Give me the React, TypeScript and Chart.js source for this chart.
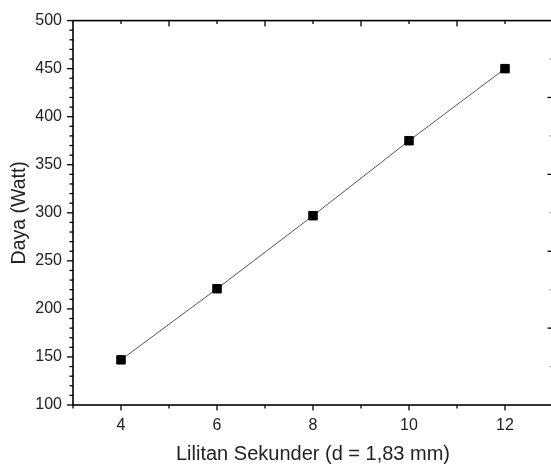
import React, { useEffect, useRef } from "react";
import { Chart, registerables } from "chart.js";

Chart.register(...registerables);

// ---- data ----
const windings = [4, 6, 8, 10, 12];
const power = [147, 221, 297, 375, 450];
const xTickLabels = [4, 6, 8, 10, 12];
const xMinorTicks = [3, 5, 7, 9, 11, 13];
const yTickLabels = [100, 150, 200, 250, 300, 350, 400, 450, 500];
const topMajorTicks = [5, 7, 9, 11];
const topMinorTicks = [4, 6, 8, 10, 12];
const rightMajorTicks = [1, 2, 3, 4];
const rightMinorTicks = [0.5, 1.5, 2.5, 3.5, 4.5];

const FONT = "'Liberation Sans', Arial, sans-serif";

const framePlugin = {
  id: "frame",
  afterDatasetsDraw(chart: any) {
    const { ctx, chartArea: a, scales } = chart;
    const x = scales.x;
    const y = scales.y;
    const y2 = scales.y2;
    ctx.save();
    ctx.strokeStyle = "#000";
    ctx.lineCap = "butt";
    const seg = (x1: number, y1: number, x2: number, y2p: number) => {
      ctx.beginPath();
      ctx.moveTo(x1, y1);
      ctx.lineTo(x2, y2p);
      ctx.stroke();
    };
    ctx.lineWidth = 1.3;
    // left axis: majors + minors (4 between majors)
    yTickLabels.forEach((v, i) => {
      const p = y.getPixelForValue(v);
      seg(a.left - 6, p, a.left, p);
      if (i < yTickLabels.length - 1) {
        const next = yTickLabels[i + 1];
        for (let k = 1; k < 5; k++) {
          const mv = v + ((next - v) * k) / 5;
          const mp = y.getPixelForValue(mv);
          seg(a.left - 3.5, mp, a.left, mp);
        }
      }
    });
    // bottom axis
    xTickLabels.forEach((v) => {
      const p = x.getPixelForValue(v);
      seg(p, a.bottom, p, a.bottom + 5.5);
    });
    xMinorTicks.forEach((v) => {
      const p = x.getPixelForValue(v);
      seg(p, a.bottom, p, a.bottom + 3.5);
    });
    // top axis (inward)
    topMajorTicks.forEach((v) => {
      const p = x.getPixelForValue(v);
      seg(p, a.top, p, a.top + 6);
    });
    topMinorTicks.forEach((v) => {
      const p = x.getPixelForValue(v);
      seg(p, a.top, p, a.top + 3.5);
    });
    // right axis (inward)
    rightMajorTicks.forEach((v) => {
      const p = y2.getPixelForValue(v);
      seg(a.right - 5.5, p, a.right, p);
    });
    ctx.strokeStyle = "#999";
    rightMinorTicks.forEach((v) => {
      const p = y2.getPixelForValue(v);
      seg(a.right - 3.5, p, a.right, p);
    });
    // frame
    ctx.strokeStyle = "#000";
    ctx.lineWidth = 1.6;
    ctx.strokeRect(a.left, a.top, a.right - a.left, a.bottom - a.top);
    ctx.restore();
  },
};

export default function App() {
  const ref = useRef<HTMLCanvasElement | null>(null);

  useEffect(() => {
    if (!ref.current) return;
    const chart = new Chart(ref.current, {
      type: "line",
      data: {
        datasets: [
          {
            data: windings.map((w, i) => ({ x: w, y: power[i] })),
            borderColor: "#555",
            borderWidth: 1,
            backgroundColor: "#000",
            pointBackgroundColor: "#000",
            pointBorderColor: "#000",
            pointBorderWidth: 1,
            pointStyle: "rect",
            pointRadius: 6,
            fill: false,
            tension: 0,
          },
        ],
      },
      plugins: [framePlugin],
      options: {
        animation: false,
        responsive: false,
        devicePixelRatio: 1,
        layout: { padding: { left: 0, top: 18, right: 47, bottom: 0 } },
        plugins: {
          legend: { display: false },
          tooltip: { enabled: false },
        },
        scales: {
          x: {
            type: "linear",
            min: 3,
            max: 13,
            grid: { display: false, drawTicks: false },
            border: { display: false },
            afterBuildTicks: (s: any) => {
              s.ticks = xTickLabels.map((v) => ({ value: v }));
            },
            afterFit: (s: any) => {
              s.height = 63;
            },
            ticks: {
              padding: 11,
              color: "#222",
              font: { family: FONT, size: 16 },
              maxRotation: 0,
            },
            title: {
              display: true,
              text: "Lilitan Sekunder (d = 1,83 mm)",
              color: "#222",
              font: { family: FONT, size: 20 },
              padding: { top: 0, bottom: 2 },
            },
          },
          y: {
            type: "linear",
            min: 100,
            max: 500,
            grid: { display: false, drawTicks: false },
            border: { display: false },
            afterBuildTicks: (s: any) => {
              s.ticks = yTickLabels.map((v) => ({ value: v }));
            },
            afterFit: (s: any) => {
              s.width = 73;
            },
            ticks: {
              padding: 11,
              color: "#222",
              font: { family: FONT, size: 16 },
            },
            title: {
              display: true,
              text: "Daya (Watt)",
              color: "#222",
              font: { family: FONT, size: 19.5 },
              padding: { top: 8, bottom: 0 },
            },
          },
          y2: {
            type: "linear",
            position: "right",
            display: false,
            min: 0,
            max: 5,
          },
        },
      } as any,
    });
    return () => chart.destroy();
  }, []);

  return (
    <div
      style={{
        position: "fixed",
        left: 0,
        top: 0,
        width: 551,
        height: 468,
        overflow: "hidden",
        background: "#fff",
      }}
    >
      <canvas ref={ref} width={600} height={468} style={{ display: "block" }} />
    </div>
  );
}
